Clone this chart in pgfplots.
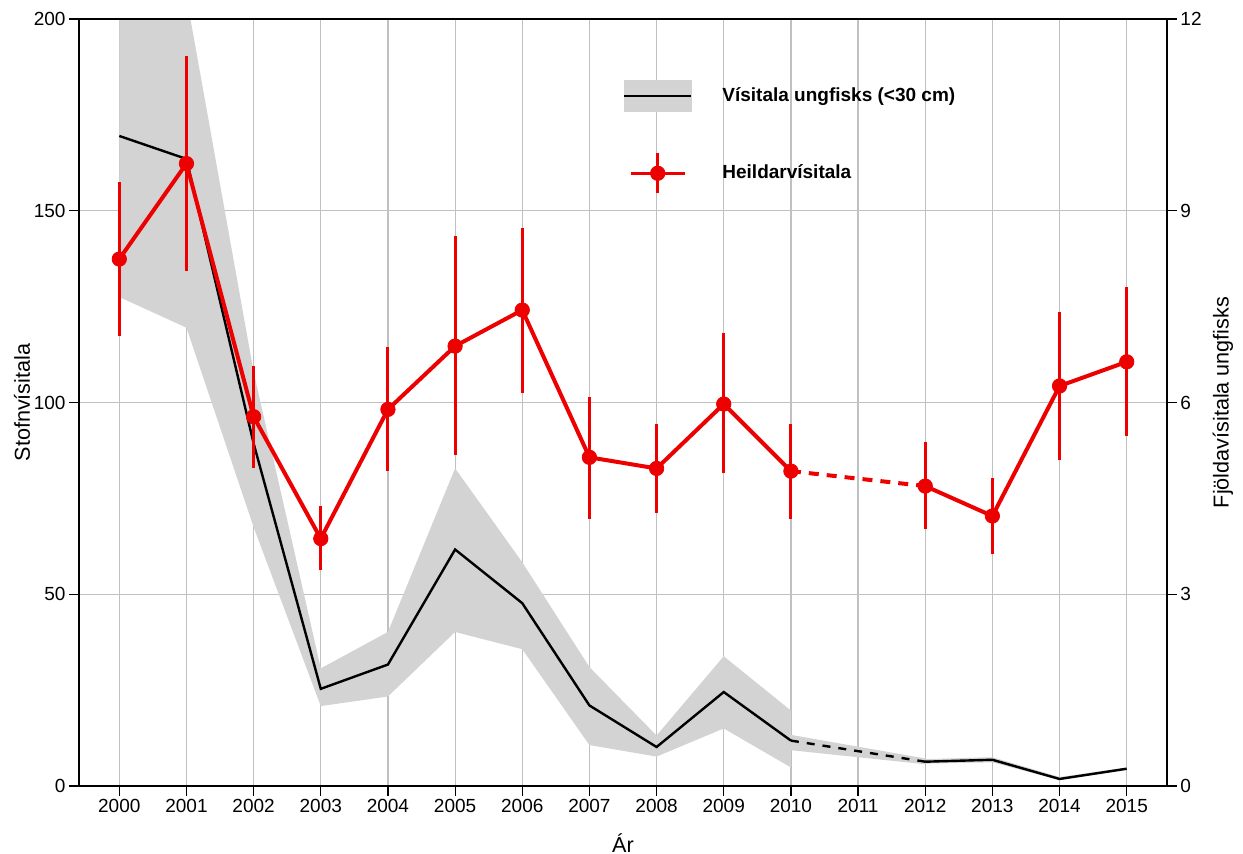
\documentclass[border=0pt]{standalone}
\usepackage{fontspec}
\setmainfont{Liberation Sans}
\usepackage{pgfplots}
\pgfplotsset{compat=1.18}
\usepackage{pgfplotstable}

\definecolor{bandgray}{RGB}{211,211,211}
\definecolor{gridgray}{RGB}{192,192,192}
\definecolor{myred}{RGB}{236,0,0}

% Heildarvisitala (left axis): year, value, plus error, minus error
\pgfplotstableread{
year val ep em
2000 137.4 20.0 20.1
2001 162.3 28.1 28.1
2002 96.3 13.2 13.4
2003 64.5 8.5 8.2
2004 98.2 16.3 16.1
2005 114.7 28.8 28.4
2006 124.1 21.4 21.6
2007 85.7 15.6 16.0
2008 82.8 11.5 11.6
2009 99.6 18.6 18.0
2010 82.1 12.2 12.4
2012 78.2 11.4 11.3
2013 70.4 10.0 10.0
2014 104.3 19.3 19.4
2015 110.6 19.5 19.4
}\heild

\begin{document}
\begin{tikzpicture}
\useasboundingbox (0,0) rectangle (621.5pt,427pt);
\pgfplotsset{
  common/.style={
    at={(39.5pt,34pt)}, anchor=south west,
    scale only axis, width=544pt, height=383.5pt,
    xmin=1999.4, xmax=2015.6,
    xtick={2000,2001,...,2015},
    xtick pos=bottom,
    tick align=outside,
    major tick length=5pt,
    tick style={black, line width=0.6pt},
    axis line style={black, line width=0.7pt},
    /pgf/number format/assume math mode=true,
    /pgf/number format/1000 sep={},
    ticklabel style={font=\fontsize{9.5}{11}\selectfont},
    label style={font=\fontsize{10.8}{13}\selectfont},
  }
}
% ---------- right axis: juvenile index ----------
\begin{axis}[common,
  ymin=0, ymax=12,
  ytick={0,3,6,9,12},
  ytick pos=right,
  yticklabel pos=right,
  xticklabels={},
  xmajorgrids, ymajorgrids,
  grid style={gridgray, line width=0.6pt},
  yticklabel style={xshift=-1.8pt},
  ylabel={Fjöldavísitala ungfisks},
  ylabel style={at={(rel axis cs:1,0.5)}, anchor=center, yshift=-28pt},
]
% confidence band 2000-2010
\addplot[fill=bandgray, draw=none] coordinates {
 (2000,13.8) (2001,12.35) (2002,6.48) (2003,1.84) (2004,2.41) (2005,4.97)
 (2006,3.50) (2007,1.86) (2008,0.79) (2009,2.03) (2010,1.18)
 (2010,0.29) (2009,0.90) (2008,0.46) (2007,0.64) (2006,2.14) (2005,2.41)
 (2004,1.40) (2003,1.25) (2002,4.05) (2001,7.17) (2000,7.65)
} -- cycle;
% band 2010-2012 (interpolated)
\addplot[fill=bandgray, draw=none] coordinates {
 (2010,0.80) (2012,0.43) (2012,0.34) (2010,0.56)
} -- cycle;
% band 2012-2015
\addplot[fill=bandgray, draw=none] coordinates {
 (2012,0.42) (2013,0.45) (2014,0.14) (2015,0.29)
 (2015,0.25) (2014,0.09) (2013,0.37) (2012,0.35)
} -- cycle;
% black line
\addplot[black, line width=1.2pt] coordinates {
 (2000,10.17) (2001,9.81) (2002,5.36) (2003,1.52) (2004,1.90) (2005,3.70)
 (2006,2.86) (2007,1.26) (2008,0.61) (2009,1.47) (2010,0.71)
};
\addplot[black, line width=1.2pt, dash pattern=on 4pt off 4pt] coordinates {
 (2010,0.71) (2012,0.38)
};
\addplot[black, line width=1.2pt] coordinates {
 (2012,0.38) (2013,0.41) (2014,0.11) (2015,0.27)
};
\end{axis}
% ---------- left axis: total index ----------
\begin{axis}[common,
  ymin=0, ymax=200,
  ytick={0,50,100,150,200},
  ytick pos=left,
  yticklabel style={xshift=1.8pt},
  xticklabel style={yshift=2pt},
  xlabel={Ár},
  ylabel={Stofnvísitala},
  xlabel style={at={(rel axis cs:0.5,0)}, anchor=center, yshift=-28.5pt},
  ylabel style={at={(rel axis cs:0,0.5)}, anchor=center, yshift=28.5pt},
  legend style={at={(0.5,0.9205)}, anchor=north west, draw=none, fill=none,
    inner sep=0pt, outer sep=0pt,
    font=\fontsize{9.5}{11}\selectfont\bfseries,
    row sep=20pt,
    /tikz/every odd column/.append style={column sep=13pt}},
  legend cell align=left,
]
\addlegendimage{legend image code/.code={
  \fill[bandgray] (0pt,-7.75pt) rectangle (33.5pt,7.75pt);
  \draw[black, line width=1.2pt] (0pt,0pt) -- (33.5pt,0pt);}}
\addlegendentry{Vísitala ungfisks (<30 cm)}
\addlegendimage{legend image code/.code={
  \draw[myred, line width=1.5pt] (3.25pt,0pt) -- (30.25pt,0pt);
  \draw[myred, line width=1.5pt] (16.75pt,-10pt) -- (16.75pt,10pt);
  \fill[myred] (16.75pt,0pt) circle (3.6pt);}}
\addlegendentry{Heildarvísitala}
% error bars and markers
\addplot[forget plot, only marks, mark=*, mark size=3.6pt, myred,
  mark options={fill=myred, draw=myred},
  error bars/.cd, y dir=both, y explicit, error mark=none,
  error bar style={myred, line width=1.5pt}]
  table[x=year, y=val, y error plus=ep, y error minus=em] {\heild};
% connecting lines
\addplot[forget plot, myred, line width=2pt] coordinates {
 (2000,137.4) (2001,162.3) (2002,96.3) (2003,64.5) (2004,98.2) (2005,114.7)
 (2006,124.1) (2007,85.7) (2008,82.8) (2009,99.6) (2010,82.1)
};
\addplot[forget plot, myred, line width=2pt, dash pattern=on 5pt off 4pt] coordinates {
 (2010,82.1) (2012,78.2)
};
\addplot[forget plot, myred, line width=2pt] coordinates {
 (2012,78.2) (2013,70.4) (2014,104.3) (2015,110.6)
};
\end{axis}
\end{tikzpicture}
\end{document}
